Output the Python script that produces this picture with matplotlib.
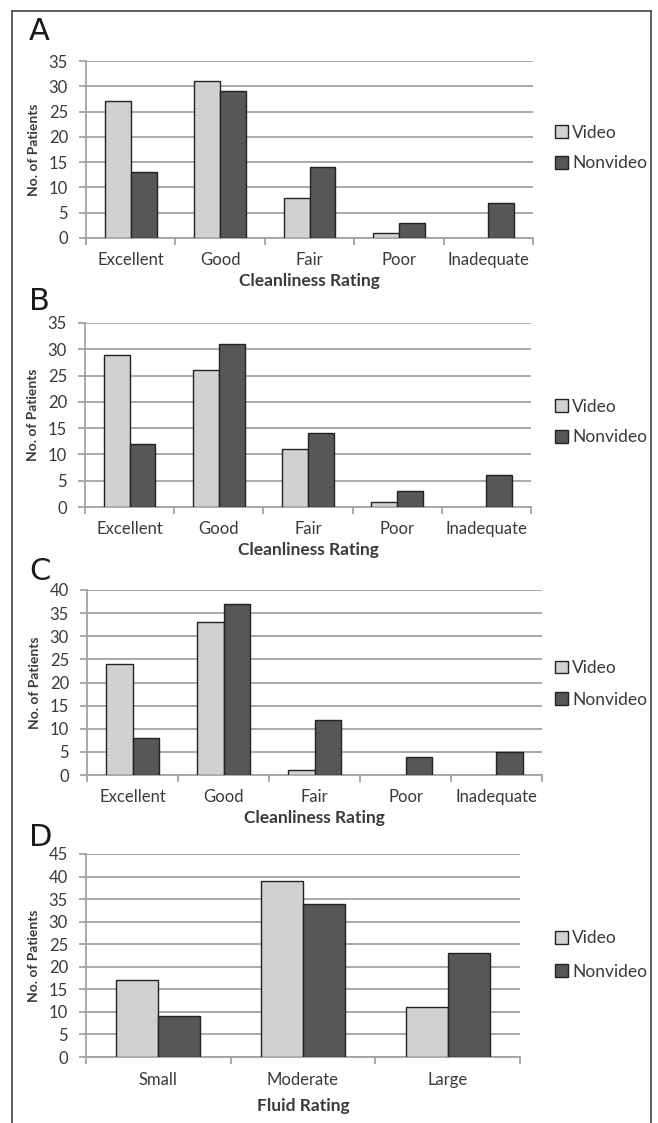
import matplotlib.pyplot as plt
from matplotlib.lines import Line2D
from matplotlib.patches import Patch

clean_cats = ["Excellent", "Good", "Fair", "Poor", "Inadequate"]
fluid_cats = ["Small", "Moderate", "Large"]

a_video = [27, 31, 8, 1, 0]
a_nonvideo = [13, 29, 14, 3, 7]
b_video = [29, 26, 11, 1, 0]
b_nonvideo = [12, 31, 14, 3, 6]
c_video = [24, 33, 1, 0, 0]
c_nonvideo = [8, 37, 12, 4, 5]
d_video = [17, 39, 11]
d_nonvideo = [9, 34, 23]

LIGHT = "#d0d1d3"
DARK = "#555759"
EDGE = "#222222"
GRID = "#a3a3a3"
TXT = "#3a3a3a"
FONT = "Lato"

W, H = 658, 1123
fig = plt.figure(figsize=(W / 100, H / 100), dpi=100)


def px_axes(left, right, top, bottom):
    return fig.add_axes([left / W, 1 - bottom / H, (right - left) / W, (bottom - top) / H])


panels = [
    # letter, cats, video, nonvideo, ymax, xlabel, (left, right, top, bottom), letter y, legend y,
    # legend spacing, tick pad, xlabel pad
    ("A", clean_cats, a_video, a_nonvideo, 35, "Cleanliness Rating", (86, 533, 61, 238), 32, 148, 0.85, 10, 4),
    ("B", clean_cats, b_video, b_nonvideo, 35, "Cleanliness Rating", (85, 531, 323, 507), 301, 422, 0.85, 10, 4),
    ("C", clean_cats, c_video, c_nonvideo, 40, "Cleanliness Rating", (87, 542, 590, 775), 572, 684, 0.9, 10, 4),
    ("D", fluid_cats, d_video, d_nonvideo, 45, "Fluid Rating", (86, 520, 854, 1057), 838, 955, 1.0, 11, 7),
]

bw = 0.29
for letter, cats, vid, nonvid, ymax, xlab, box, ly, legy, sp, tpad, xpad in panels:
    ax = px_axes(*box)
    x = list(range(len(cats)))
    ax.bar([i - bw / 2 for i in x], vid, bw, color=LIGHT, edgecolor=EDGE,
           linewidth=[1.0 if v > 0 else 0 for v in vid], zorder=3)
    ax.bar([i + bw / 2 for i in x], nonvid, bw, color=DARK, edgecolor=EDGE,
           linewidth=[1.0 if v > 0 else 0 for v in nonvid], zorder=3)
    ax.set_xlim(-0.5, len(cats) - 0.5)
    ax.set_ylim(0, ymax)
    ax.set_yticks(range(0, ymax + 1, 5))
    ax.yaxis.grid(True, color=GRID, linewidth=1.3, zorder=0)
    ax.set_axisbelow(True)
    for s in ["top", "right"]:
        ax.spines[s].set_visible(False)
    for s in ["left", "bottom"]:
        ax.spines[s].set_color(GRID)
        ax.spines[s].set_linewidth(1.3)
    ax.set_xticks(x)
    ax.set_xticklabels(cats, fontsize=12, color=TXT, family=FONT)
    ax.tick_params(axis="x", which="major", length=0, pad=tpad)
    ax.set_xticks([i - 0.5 for i in range(len(cats) + 1)], minor=True)
    ax.tick_params(axis="x", which="minor", length=5, width=1.3, color=GRID, direction="out")
    ax.tick_params(axis="y", length=5, width=1.3, color=GRID, direction="out", labelsize=12,
                   labelcolor=TXT, pad=8)
    for t in ax.get_yticklabels():
        t.set_family(FONT)
    ax.set_xlabel(xlab, fontsize=12.5, fontweight="bold", color=TXT, family=FONT, labelpad=xpad)
    ax.set_ylabel("No. of Patients", fontsize=10, fontweight="bold", color=TXT, family=FONT,
                  labelpad=6)
    fig.text(29 / W, 1 - ly / H, letter, fontsize=22, color="#1a1a1a", va="center", ha="left",
             family="DejaVu Sans")
    handles = [Patch(facecolor=LIGHT, edgecolor=EDGE, label="Video"),
               Patch(facecolor=DARK, edgecolor=EDGE, label="Nonvideo")]
    fig.legend(handles=handles, loc="center left", bbox_to_anchor=(546 / W, 1 - legy / H),
               frameon=False, handlelength=0.75, handleheight=0.75, handletextpad=0.25,
               labelspacing=sp, borderpad=0, prop={"family": FONT, "size": 12.5}, labelcolor=TXT)

border = "#444444"
fig.add_artist(Line2D([12 / W, 12 / W], [0, 1 - 11 / H], color=border, lw=1.2))
fig.add_artist(Line2D([12 / W, 651 / W], [1 - 11 / H, 1 - 11 / H], color=border, lw=1.2))
fig.add_artist(Line2D([651 / W, 651 / W], [0, 1 - 11 / H], color=border, lw=1.2))

fig.savefig("out.png", dpi=100)
